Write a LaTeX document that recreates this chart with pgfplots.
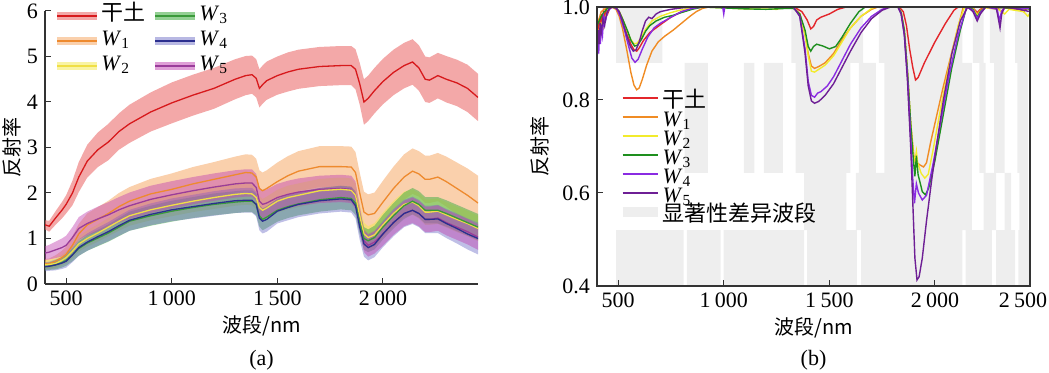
\documentclass[border=0pt]{standalone}
\usepackage{fontspec}
\setmainfont{Liberation Serif}
\newfontfamily\cjk{Noto Sans CJK SC}
\usepackage{pgfplots}
\usepackage{pgfplotstable}
\pgfplotsset{compat=1.18}

\definecolor{cR}{HTML}{D7191C}
\definecolor{cO}{HTML}{EE8A2E}
\definecolor{cY}{HTML}{F0DF45}
\definecolor{cG}{HTML}{3A9A3A}
\definecolor{cB}{HTML}{2B2F8F}
\definecolor{cP}{HTML}{9A3C9A}
\definecolor{bR}{HTML}{EB6E6E}
\definecolor{bO}{HTML}{F5A15A}
\definecolor{bY}{HTML}{F3EA4A}
\definecolor{bG}{HTML}{4DB04D}
\definecolor{bB}{HTML}{7272C8}
\definecolor{bP}{HTML}{C040B0}
\definecolor{lR}{HTML}{E3262B}
\definecolor{lO}{HTML}{F08C24}
\definecolor{lY}{HTML}{F2EB2C}
\definecolor{lG}{HTML}{1E8F1E}
\definecolor{lF}{HTML}{8A2BE2}
\definecolor{lV}{HTML}{6E1F95}
\definecolor{sig}{HTML}{EEEEEE}

% mean (r,o,y,g,b,p) and half-width of the band (rd,od,...) for each wavelength
\pgfplotstableread{
x r rd o od y yd g gd b bd p pd
400 1.30 .10 .45 .10 .42 .10 .38 .08 .38 .10 .68 .15
420 1.27 .12 .45 .11 .43 .10 .39 .08 .39 .10 .70 .16
450 1.45 .15 .50 .13 .45 .11 .42 .10 .42 .12 .75 .18
480 1.62 .18 .58 .15 .52 .12 .47 .11 .46 .13 .80 .20
500 1.75 .20 .65 .17 .58 .13 .52 .12 .50 .14 .85 .21
530 2.00 .27 .85 .20 .72 .15 .64 .14 .64 .16 1.02 .23
560 2.35 .33 1.10 .22 .88 .17 .78 .16 .80 .18 1.22 .25
600 2.70 .36 1.30 .25 1.00 .18 .90 .17 .92 .19 1.33 .26
650 2.95 .38 1.42 .27 1.12 .19 1.01 .18 1.04 .20 1.43 .27
700 3.12 .40 1.55 .28 1.25 .20 1.12 .19 1.15 .21 1.52 .28
750 3.35 .40 1.70 .30 1.38 .21 1.25 .20 1.28 .22 1.63 .28
800 3.52 .42 1.82 .31 1.50 .22 1.38 .21 1.40 .23 1.72 .29
900 3.78 .43 1.98 .33 1.63 .23 1.50 .22 1.53 .24 1.86 .30
1000 3.98 .45 2.08 .35 1.73 .24 1.60 .23 1.63 .25 1.96 .30
1100 4.15 .45 2.20 .37 1.82 .24 1.68 .23 1.70 .26 2.05 .30
1200 4.30 .45 2.30 .38 1.90 .25 1.75 .24 1.77 .27 2.13 .30
1300 4.50 .44 2.40 .40 1.97 .25 1.80 .24 1.83 .27 2.20 .30
1350 4.58 .43 2.45 .40 1.99 .25 1.82 .24 1.84 .27 2.22 .30
1380 4.60 .42 2.44 .40 1.98 .25 1.82 .24 1.84 .27 2.22 .30
1400 4.52 .42 2.35 .40 1.90 .25 1.75 .24 1.75 .27 2.12 .30
1415 4.30 .42 2.10 .40 1.68 .25 1.50 .24 1.45 .27 1.82 .30
1430 4.38 .42 2.05 .40 1.62 .25 1.42 .24 1.38 .27 1.75 .30
1450 4.47 .42 2.10 .40 1.67 .25 1.47 .24 1.42 .27 1.78 .30
1500 4.58 .42 2.25 .42 1.82 .25 1.62 .25 1.60 .27 1.90 .30
1550 4.66 .43 2.38 .43 1.90 .26 1.70 .25 1.68 .28 1.97 .30
1600 4.72 .43 2.48 .44 1.95 .26 1.76 .25 1.75 .28 2.02 .30
1700 4.78 .43 2.58 .45 2.05 .26 1.85 .26 1.83 .28 2.08 .30
1800 4.80 .43 2.58 .45 2.08 .26 1.90 .26 1.87 .28 2.10 .30
1850 4.80 .43 2.57 .45 2.06 .26 1.88 .26 1.85 .28 2.08 .30
1870 4.72 .44 2.45 .45 1.95 .26 1.78 .26 1.72 .28 1.95 .30
1890 4.40 .46 2.00 .45 1.50 .26 1.35 .26 1.25 .28 1.45 .28
1910 4.00 .50 1.58 .45 1.10 .25 1.00 .25 .88 .28 .95 .25
1930 4.08 .50 1.52 .45 1.02 .25 .95 .25 .80 .28 .85 .25
1960 4.25 .50 1.55 .46 1.08 .26 1.02 .26 .87 .28 .92 .25
2000 4.45 .50 1.80 .47 1.30 .27 1.25 .27 1.10 .29 1.10 .26
2050 4.65 .50 2.10 .48 1.55 .28 1.50 .28 1.35 .30 1.35 .27
2100 4.80 .50 2.35 .50 1.75 .28 1.72 .29 1.55 .30 1.55 .28
2140 4.88 .50 2.48 .50 1.80 .28 1.82 .29 1.62 .30 1.62 .28
2170 4.75 .50 2.42 .50 1.72 .28 1.75 .29 1.55 .30 1.55 .28
2200 4.50 .50 2.30 .52 1.58 .28 1.62 .29 1.42 .30 1.42 .28
2220 4.48 .50 2.30 .52 1.58 .28 1.62 .29 1.42 .30 1.42 .28
2260 4.58 .50 2.35 .53 1.60 .28 1.62 .29 1.43 .31 1.45 .28
2300 4.50 .51 2.25 .55 1.52 .28 1.55 .29 1.33 .32 1.35 .28
2350 4.42 .51 2.10 .57 1.42 .28 1.45 .29 1.22 .33 1.25 .28
2400 4.30 .52 1.95 .59 1.33 .28 1.35 .29 1.10 .34 1.15 .28
2450 4.10 .52 1.78 .60 1.22 .28 1.25 .29 1.00 .35 1.03 .28
}\spec

% band outlines: upper edge forward, lower edge backward
\pgfplotstablesort[sort key=x, sort cmp=float <]{\polyA}{\spec}
\pgfplotstablesort[sort key=x, sort cmp=float >]{\polyB}{\spec}
\pgfplotstablecreatecol[expr={\thisrow{r}+\thisrow{rd}}]{rv}{\polyA}
\pgfplotstablecreatecol[expr={\thisrow{o}+\thisrow{od}}]{ov}{\polyA}
\pgfplotstablecreatecol[expr={\thisrow{y}+\thisrow{yd}}]{yv}{\polyA}
\pgfplotstablecreatecol[expr={\thisrow{g}+\thisrow{gd}}]{gv}{\polyA}
\pgfplotstablecreatecol[expr={\thisrow{b}+\thisrow{bd}}]{bv}{\polyA}
\pgfplotstablecreatecol[expr={\thisrow{p}+\thisrow{pd}}]{pv}{\polyA}
\pgfplotstablecreatecol[expr={\thisrow{r}-\thisrow{rd}}]{rv}{\polyB}
\pgfplotstablecreatecol[expr={\thisrow{o}-\thisrow{od}}]{ov}{\polyB}
\pgfplotstablecreatecol[expr={\thisrow{y}-\thisrow{yd}}]{yv}{\polyB}
\pgfplotstablecreatecol[expr={\thisrow{g}-\thisrow{gd}}]{gv}{\polyB}
\pgfplotstablecreatecol[expr={\thisrow{b}-\thisrow{bd}}]{bv}{\polyB}
\pgfplotstablecreatecol[expr={\thisrow{p}-\thisrow{pd}}]{pv}{\polyB}
\pgfplotstablevertcat{\polyA}{\polyB}

\pgfplotsset{
  every axis/.append style={
    scale only axis,
    tick align=inside, major tick length=3pt,
    tick style={black!80, line width=0.5pt},
    axis line style={black!80, line width=0.6pt},
    tick label style={font=\fontsize{11}{13}\selectfont},
    label style={font=\fontsize{11}{13}\selectfont},
    /pgf/number format/assume math mode=true,
    /pgf/number format/1000 sep={\hspace{2.2pt}},
  },
}

\begin{document}
\begin{tikzpicture}
\useasboundingbox (0pt,0pt) rectangle (524.5pt,186.5pt);

% ---------------- (a) ----------------
\begin{axis}[
  name=A,
  at={(22.5pt,44.5pt)}, anchor=south west,
  width=216.5pt, height=136.5pt,
  xmin=400, xmax=2450, ymin=0, ymax=6,
  axis x line*=bottom, axis y line*=left,
  xtick={500,1000,1500,2000}, ytick={0,1,2,3,4,5,6},
  xlabel={\cjk 波段/nm}, ylabel={\cjk 反射率},
  every axis x label/.style={at={(axis description cs:0.5,-0.154)}, anchor=center},
  every axis y label/.style={at={(axis description cs:-0.076,0.5)}, rotate=90, anchor=center},
  legend columns=2,
  legend style={at={(axis description cs:0.0185,1.03)}, anchor=north west, inner sep=0pt,
    draw=none, fill=none, font=\fontsize{11}{13}\selectfont,
    nodes={inner sep=0pt, text height=8.5pt, text depth=4pt, text width=22pt, align=left},
    /tikz/every even column/.style={column sep=3pt},
    /tikz/every odd column/.style={column sep=0pt}},
]
\addlegendimage{legend image code/.code={\draw[bR, line width=4pt, opacity=0.6] (0pt,0pt)--(20pt,0pt); \draw[cR, line width=0.8pt] (0pt,0pt)--(20pt,0pt);}}
\addlegendentry{\cjk 干土}
\addlegendimage{legend image code/.code={\draw[bG, line width=4pt, opacity=0.6] (0pt,0pt)--(20pt,0pt); \draw[cG, line width=0.8pt] (0pt,0pt)--(20pt,0pt);}}
\addlegendentry{\textit{W}\textsubscript{3}}
\addlegendimage{legend image code/.code={\draw[bO, line width=4pt, opacity=0.5] (0pt,0pt)--(20pt,0pt); \draw[cO, line width=0.8pt] (0pt,0pt)--(20pt,0pt);}}
\addlegendentry{\textit{W}\textsubscript{1}}
\addlegendimage{legend image code/.code={\draw[bB, line width=4pt, opacity=0.5] (0pt,0pt)--(20pt,0pt); \draw[cB, line width=0.8pt] (0pt,0pt)--(20pt,0pt);}}
\addlegendentry{\textit{W}\textsubscript{4}}
\addlegendimage{legend image code/.code={\draw[bY, line width=4pt, opacity=0.5] (0pt,0pt)--(20pt,0pt); \draw[cY, line width=0.8pt] (0pt,0pt)--(20pt,0pt);}}
\addlegendentry{\textit{W}\textsubscript{2}}
\addlegendimage{legend image code/.code={\draw[bP, line width=4pt, opacity=0.5] (0pt,0pt)--(20pt,0pt); \draw[cP, line width=0.8pt] (0pt,0pt)--(20pt,0pt);}}
\addlegendentry{\textit{W}\textsubscript{5}}

% bands
\addplot[fill=bR, fill opacity=0.6, draw=none, forget plot] table[x=x, y=rv] {\polyA};
\addplot[fill=bO, fill opacity=0.5, draw=none, forget plot] table[x=x, y=ov] {\polyA};
\addplot[fill=bY, fill opacity=0.5, draw=none, forget plot] table[x=x, y=yv] {\polyA};
\addplot[fill=bG, fill opacity=0.55, draw=none, forget plot] table[x=x, y=gv] {\polyA};
\addplot[fill=bB, fill opacity=0.45, draw=none, forget plot] table[x=x, y=bv] {\polyA};
\addplot[fill=bP, fill opacity=0.45, draw=none, forget plot] table[x=x, y=pv] {\polyA};
% mean lines
\addplot[cR, line width=0.65pt, forget plot] table[x=x, y=r] {\spec};
\addplot[cO, line width=0.65pt, forget plot] table[x=x, y=o] {\spec};
\addplot[cP, line width=0.65pt, forget plot] table[x=x, y=p] {\spec};
\addplot[cY, line width=0.65pt, forget plot] table[x=x, y=y] {\spec};
\addplot[cG, line width=0.65pt, forget plot] table[x=x, y=g] {\spec};
\addplot[cB, line width=0.65pt, forget plot] table[x=x, y=b] {\spec};
\end{axis}
\node[font=\fontsize{11}{13}\selectfont] at ([yshift=-38pt]A.south) {(a)};

% ---------------- (b) ----------------
\begin{axis}[
  name=B,
  at={(298.5pt,43.5pt)}, anchor=south west,
  width=216.5pt, height=139.5pt,
  xmin=400, xmax=2450, ymin=0.4, ymax=1.0,
  xtick={500,1000,1500,2000}, ytick={0.4,0.6,0.8,1.0},
  extra x ticks={2450}, extra x tick labels={\hspace{-7pt}2\hspace{2.2pt}500},
  extra x tick style={major tick length=0pt, xticklabel style={anchor=north}},
  yticklabel style={/pgf/number format/.cd, fixed, fixed zerofill, precision=1},
  xtick pos=bottom, ytick pos=left,
  xlabel={\cjk 波段/nm}, ylabel={\cjk 反射率},
  every axis x label/.style={at={(axis description cs:0.5,-0.15)}, anchor=center},
  every axis y label/.style={at={(axis description cs:-0.132,0.5)}, rotate=90, anchor=center},
  axis on top,
  legend style={at={(axis description cs:0.0465,0.692)}, anchor=north west, inner sep=0pt,
    draw=none, fill=none, font=\fontsize{11}{13}\selectfont,
    nodes={inner sep=0pt, text height=7pt, text depth=2.5pt, align=left},
    /tikz/every even column/.style={column sep=1pt}},
  legend cell align=left,
]
\addlegendimage{legend image code/.code={\draw[lR, line width=0.9pt] (0pt,2.5pt)--(17.5pt,2.5pt);}}
\addlegendentry{\cjk 干土}
\addlegendimage{legend image code/.code={\draw[lO, line width=0.9pt] (0pt,2.5pt)--(17.5pt,2.5pt);}}
\addlegendentry{\textit{W}\textsubscript{1}}
\addlegendimage{legend image code/.code={\draw[lY, line width=0.9pt] (0pt,2.5pt)--(17.5pt,2.5pt);}}
\addlegendentry{\textit{W}\textsubscript{2}}
\addlegendimage{legend image code/.code={\draw[lG, line width=0.9pt] (0pt,2.5pt)--(17.5pt,2.5pt);}}
\addlegendentry{\textit{W}\textsubscript{3}}
\addlegendimage{legend image code/.code={\draw[lF, line width=0.9pt] (0pt,2.5pt)--(17.5pt,2.5pt);}}
\addlegendentry{\textit{W}\textsubscript{4}}
\addlegendimage{legend image code/.code={\draw[lV, line width=0.9pt] (0pt,2.5pt)--(17.5pt,2.5pt);}}
\addlegendentry{\textit{W}\textsubscript{5}}
\addlegendimage{legend image code/.code={\draw[sig, line width=5pt] (0pt,2.5pt)--(17.5pt,2.5pt);}}
\addlegendentry{\cjk 显著性差异波段}

% significant bands, in four height tiers
\addplot[fill=sig, draw=none, forget plot, unbounded coords=jump] coordinates {
(490,0.88)(710,0.88)(710,1.0)(490,1.0) (490,nan)
(1320,0.88)(1660,0.88)(1660,1.0)(1320,1.0) (1320,nan)
(1735,0.88)(2130,0.88)(2130,1.0)(1735,1.0) (1735,nan)
(2180,0.88)(2230,0.88)(2230,1.0)(2180,1.0) (2180,nan)
(2260,0.88)(2330,0.88)(2330,1.0)(2260,1.0) (2260,nan)
(2380,0.88)(2440,0.88)(2440,1.0)(2380,1.0) (2380,nan)
(815,0.643)(925,0.643)(925,0.88)(815,0.88) (815,nan)
(1095,0.643)(1145,0.643)(1145,0.88)(1095,0.88) (1095,nan)
(1190,0.643)(1280,0.643)(1280,0.88)(1190,0.88) (1190,nan)
(1340,0.643)(1600,0.643)(1600,0.88)(1340,0.88) (1340,nan)
(1640,0.643)(1720,0.643)(1720,0.88)(1640,0.88) (1640,nan)
(1760,0.643)(2175,0.643)(2175,0.88)(1760,0.88) (1760,nan)
(2210,0.643)(2240,0.643)(2240,0.88)(2210,0.88) (2210,nan)
(2280,0.643)(2330,0.643)(2330,0.88)(2280,0.88) (2280,nan)
(2390,0.643)(2440,0.643)(2440,0.88)(2390,0.88) (2390,nan)
(1380,0.52)(1580,0.52)(1580,0.643)(1380,0.643) (1380,nan)
(1625,0.52)(2175,0.52)(2175,0.643)(1625,0.643) (1625,nan)
(2230,0.52)(2290,0.52)(2290,0.643)(2230,0.643) (2230,nan)
(2330,0.52)(2360,0.52)(2360,0.643)(2330,0.643) (2330,nan)
(2400,0.52)(2440,0.52)(2440,0.643)(2400,0.643) (2400,nan)
(490,0.4)(810,0.4)(810,0.52)(490,0.52) (490,nan)
(825,0.4)(985,0.4)(985,0.52)(825,0.52) (825,nan)
(1000,0.4)(1380,0.4)(1380,0.52)(1000,0.52) (1000,nan)
(1395,0.4)(1630,0.4)(1630,0.52)(1395,0.52) (1395,nan)
(1650,0.4)(2130,0.4)(2130,0.52)(1650,0.52) (1650,nan)
(2145,0.4)(2270,0.4)(2270,0.52)(2145,0.52) (2145,nan)
(2290,0.4)(2380,0.4)(2380,0.52)(2290,0.52) (2290,nan)
(2395,0.4)(2450,0.4)(2450,0.52)(2395,0.52)
};

% 干土
\addplot[lR, line width=0.7pt, forget plot] coordinates {
(400,0.95)(404,0.97)(408,0.935)(412,0.975)(416,0.955)(420,0.985)(425,0.96)(430,0.99)(436,0.975)(442,0.995)(450,0.985)(460,0.997)(475,1.0)(490,0.998)(505,0.99)(520,0.975)(540,0.945)(560,0.92)(575,0.908)(588,0.905)(600,0.912)(620,0.928)(650,0.945)(700,0.962)(750,0.978)(800,0.99)(850,0.997)(900,1.0)(1000,1.0)(1100,0.999)(1200,1.0)(1300,1.0)(1340,0.998)(1370,0.99)(1395,0.972)(1412,0.953)(1425,0.958)(1440,0.972)(1460,0.978)(1500,0.985)(1540,0.995)(1580,1.0)(1830,1.0)(1850,0.99)(1865,0.96)(1880,0.91)(1895,0.87)(1908,0.843)(1920,0.848)(1950,0.88)(2000,0.925)(2050,0.965)(2090,0.993)(2110,1.0)(2180,0.998)(2200,0.988)(2215,0.995)(2240,1.0)(2300,0.996)(2315,0.99)(2330,0.998)(2400,0.995)(2420,0.99)(2440,1.0)(2460,0.985)(2480,0.995)(2500,0.99)};
% W1
\addplot[lO, line width=0.7pt, forget plot] coordinates {
(400,0.96)(410,0.975)(420,0.99)(435,0.995)(450,1.0)(470,1.0)(490,0.995)(505,0.98)(520,0.955)(540,0.91)(560,0.86)(575,0.832)(588,0.822)(600,0.826)(615,0.845)(635,0.875)(660,0.905)(690,0.925)(720,0.937)(760,0.95)(800,0.965)(840,0.98)(870,0.99)(900,0.997)(930,1.0)(1330,1.0)(1360,0.985)(1385,0.94)(1400,0.9)(1415,0.873)(1430,0.868)(1450,0.872)(1480,0.88)(1520,0.9)(1560,0.93)(1600,0.955)(1650,0.98)(1700,0.995)(1730,1.0)(1825,1.0)(1840,0.988)(1855,0.95)(1870,0.86)(1885,0.75)(1900,0.68)(1915,0.665)(1930,0.66)(1946,0.656)(1960,0.665)(1980,0.71)(2010,0.77)(2040,0.83)(2070,0.885)(2100,0.94)(2120,0.975)(2134,1.0)(2180,0.997)(2200,0.985)(2215,0.993)(2240,1.0)(2350,0.998)(2450,0.996)(2500,0.99)};
% W2
\addplot[lY, line width=0.7pt, forget plot] coordinates {
(400,0.94)(410,0.95)(420,0.965)(430,0.955)(440,0.98)(455,0.995)(470,1.0)(490,0.998)(505,0.99)(525,0.97)(545,0.945)(560,0.93)(575,0.921)(590,0.922)(610,0.935)(630,0.952)(660,0.97)(700,0.98)(750,0.988)(800,0.994)(850,0.998)(900,1.0)(1100,0.996)(1250,0.995)(1300,1.0)(1330,0.998)(1360,0.985)(1385,0.94)(1400,0.895)(1415,0.862)(1430,0.86)(1450,0.866)(1480,0.875)(1520,0.895)(1560,0.925)(1600,0.955)(1650,0.98)(1700,0.997)(1720,1.0)(1825,1.0)(1840,0.988)(1855,0.95)(1870,0.86)(1885,0.75)(1898,0.68)(1905,0.668)(1912,0.69)(1918,0.665)(1935,0.642)(1952,0.632)(1968,0.64)(1990,0.69)(2030,0.79)(2070,0.88)(2110,0.96)(2140,1.0)(2180,0.996)(2200,0.982)(2215,0.99)(2240,0.998)(2300,0.995)(2330,0.985)(2350,0.995)(2420,0.99)(2440,0.98)(2460,0.995)(2480,0.975)(2500,0.985)};
% W3
\addplot[lG, line width=0.7pt, forget plot] coordinates {
(400,0.96)(410,0.97)(420,0.98)(435,0.99)(450,0.997)(470,1.0)(490,0.998)(505,0.99)(525,0.97)(545,0.948)(562,0.927)(578,0.916)(592,0.918)(610,0.93)(630,0.948)(650,0.96)(680,0.97)(720,0.978)(760,0.982)(800,0.988)(850,0.995)(900,1.0)(1000,0.998)(1100,0.996)(1200,0.995)(1300,0.997)(1330,0.997)(1360,0.985)(1385,0.95)(1400,0.915)(1412,0.905)(1425,0.915)(1440,0.92)(1470,0.916)(1500,0.91)(1530,0.915)(1560,0.935)(1600,0.965)(1640,0.99)(1670,1.0)(1825,1.0)(1840,0.988)(1855,0.95)(1870,0.86)(1885,0.75)(1898,0.67)(1905,0.636)(1912,0.68)(1920,0.64)(1940,0.603)(1955,0.596)(1970,0.61)(2000,0.67)(2040,0.77)(2080,0.87)(2120,0.95)(2150,1.0)(2180,0.995)(2200,0.978)(2215,0.99)(2240,1.0)(2500,0.995)};
% W4
\addplot[lF, line width=0.7pt, forget plot] coordinates {
(400,0.88)(404,0.93)(408,0.9)(412,0.95)(416,0.92)(420,0.96)(426,0.94)(432,0.98)(440,0.97)(450,0.99)(465,0.998)(480,1.0)(495,0.995)(510,0.98)(530,0.95)(550,0.915)(565,0.89)(580,0.881)(595,0.888)(615,0.91)(640,0.935)(670,0.955)(700,0.965)(750,0.978)(800,0.99)(850,0.997)(900,1.0)(995,1.0)(1000,0.985)(1005,1.0)(1300,1.0)(1330,1.0)(1360,0.98)(1385,0.91)(1400,0.84)(1415,0.81)(1430,0.806)(1445,0.815)(1460,0.818)(1490,0.83)(1520,0.85)(1560,0.885)(1600,0.92)(1650,0.955)(1700,0.98)(1750,0.995)(1780,1.0)(1825,1.0)(1840,0.985)(1855,0.94)(1870,0.85)(1885,0.72)(1895,0.63)(1903,0.578)(1912,0.62)(1922,0.6)(1940,0.585)(1960,0.595)(1990,0.66)(2030,0.76)(2070,0.86)(2110,0.94)(2150,1.0)(2180,0.993)(2200,0.975)(2215,0.988)(2240,1.0)(2295,0.995)(2305,0.97)(2315,0.99)(2330,1.0)(2500,0.995)};
% W5
\addplot[lV, line width=0.7pt, forget plot] coordinates {
(400,0.9)(405,0.95)(410,0.92)(415,0.965)(420,0.945)(428,0.975)(436,0.96)(445,0.985)(455,0.995)(470,1.0)(490,0.998)(505,0.99)(520,0.97)(540,0.94)(558,0.915)(572,0.905)(585,0.908)(600,0.925)(615,0.95)(630,0.97)(645,0.978)(660,0.975)(680,0.985)(700,0.99)(750,0.995)(800,0.998)(850,1.0)(1300,1.0)(1330,1.0)(1360,0.98)(1385,0.9)(1400,0.83)(1415,0.798)(1430,0.793)(1450,0.797)(1480,0.81)(1520,0.835)(1560,0.87)(1600,0.905)(1650,0.945)(1700,0.975)(1750,0.993)(1790,1.0)(1825,1.0)(1840,0.985)(1855,0.94)(1870,0.84)(1885,0.7)(1895,0.58)(1905,0.46)(1915,0.413)(1925,0.42)(1940,0.46)(1960,0.54)(1985,0.63)(2010,0.71)(2040,0.8)(2080,0.9)(2120,0.97)(2155,1.0)(2180,0.99)(2200,0.97)(2215,0.985)(2240,1.0)(2290,0.998)(2300,0.975)(2308,0.955)(2316,0.985)(2330,1.0)(2400,0.995)(2450,0.99)(2500,0.985)};
\end{axis}
\node[font=\fontsize{11}{13}\selectfont] at ([yshift=-37pt]B.south) {(b)};
\end{tikzpicture}
\end{document}
